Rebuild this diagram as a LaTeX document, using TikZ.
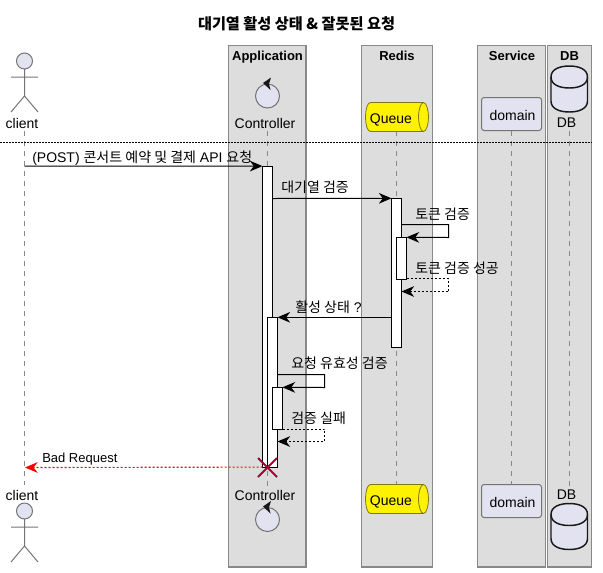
\documentclass[tikz,border=0pt]{standalone}
\usepackage{fontspec}
\usetikzlibrary{arrows.meta}
\setmainfont{Liberation Sans}
\newfontfamily\kr{Noto Sans CJK KR}
\definecolor{partfill}{HTML}{E2E2F0}
\definecolor{boxfill}{HTML}{DDDDDD}
\definecolor{edgegray}{HTML}{888888}
\definecolor{inkdark}{HTML}{181818}
\definecolor{queueedge}{HTML}{7A7A10}
\definecolor{crosscol}{HTML}{A80036}
\tikzset{
  x=0.75pt,y=-0.75pt,
  lab/.style={inner sep=0pt,font=\fontsize{10.5}{12}\selectfont,text=black},
  msglab/.style={lab,anchor=west},
  smalllab/.style={inner sep=0pt,anchor=west,font=\fontsize{9.75}{12}\selectfont,text=black},
  boxtitle/.style={inner sep=0pt,anchor=base,font=\fontsize{9.75}{12}\selectfont\bfseries,text=black},
  groupbox/.style={draw=edgegray,fill=boxfill,line width=1.1pt},
  lifeline/.style={draw=edgegray,line width=0.75pt,dash pattern=on 3.75pt off 3.75pt},
  bar/.style={draw=black,fill=white,line width=0.75pt,minimum width=7.5pt,inner sep=0pt,outer sep=0pt},
  msg/.style={draw=black,line width=0.75pt,-{Stealth[length=9.5pt,width=8pt,inset=3pt]}},
  retmsg/.style={msg,dash pattern=on 1.5pt off 1.5pt},
  actorline/.style={draw=edgegray!85!black,line width=0.75pt},
  partshape/.style={draw=edgegray!85!black,fill=partfill,line width=0.75pt},
  dbshape/.style={draw=inkdark,fill=partfill,line width=1.1pt},
  qshape/.style={draw=queueedge,fill=yellow,line width=0.6pt},
}
\newcommand{\actorfig}[2]{% x, head y
  \draw[partshape] (#1,#2) circle[radius=8];
  \draw[actorline] (#1,#2+8)--(#1,#2+35)
     (#1-13.5,#2+16)--(#1+13.5,#2+16)
     (#1-13.5,#2+51)--(#1,#2+35)--(#1+13.5,#2+51);
}
\newcommand{\ctrlfig}[2]{% x, centre y
  \draw[partshape] (#1,#2) circle[radius=12];
  \fill[inkdark] (#1-4.5,#2-13) -- (#1+3.5,#2-18.5) -- (#1+1.5,#2-12) -- (#1+3,#2-6) -- cycle;
}
\newcommand{\queuefig}[1]{% top y
  \draw[qshape] (423.5,#1) -- (370.5,#1) .. controls (367,#1) and (365.5,#1+8) .. (365.5,#1+14.5)
     .. controls (365.5,#1+21) and (367,#1+29) .. (370.5,#1+29) -- (423.5,#1+29)
     .. controls (426.5,#1+29) and (428.5,#1+21) .. (428.5,#1+14.5)
     .. controls (428.5,#1+8) and (426.5,#1) .. (423.5,#1) -- cycle;
  \draw[qshape,fill=none] (423.5,#1) .. controls (420.5,#1) and (418.5,#1+8) .. (418.5,#1+14.5)
     .. controls (418.5,#1+21) and (420.5,#1+29) .. (423.5,#1+29);
}
\newcommand{\dbfig}[1]{% top y
  \draw[dbshape] (551,#1+11) .. controls (551,#1+3) and (560,#1) .. (569.3,#1)
     .. controls (578.5,#1) and (587.5,#1+3) .. (587.5,#1+11) -- (587.5,#1+35)
     .. controls (587.5,#1+43) and (578.5,#1+46) .. (569.3,#1+46)
     .. controls (560,#1+46) and (551,#1+43) .. (551,#1+35) -- cycle;
  \draw[dbshape,fill=none] (551,#1+11) .. controls (551,#1+19) and (560,#1+22) .. (569.3,#1+22)
     .. controls (578.5,#1+22) and (587.5,#1+19) .. (587.5,#1+11);
}
\begin{document}
\begin{tikzpicture}
\useasboundingbox (0,0) rectangle (603,572);
% title
\node[inner sep=0pt,font=\fontsize{11.4}{13}\selectfont\bfseries\kr] (title) at (296.5,24) {대기열 활성 상태 \& 잘못된 요청};
% group boxes
\draw[groupbox] (228.5,45.5) rectangle (306,567);
\draw[groupbox] (361.5,45.5) rectangle (432.5,567);
\draw[groupbox] (477.5,45.5) rectangle (545.5,567);
\draw[groupbox] (547.5,45.5) rectangle (591.5,567);
\node[boxtitle] (tApp) at (267.5,60) {Application};
\node[boxtitle] (tRedis) at (397,60) {Redis};
\node[boxtitle] (tSvc) at (512,60) {Service};
\node[boxtitle] (tDB) at (569.5,60) {DB};
% participant labels
\node[lab] (clientT) at (22,123) {client};
\node[lab] (clientB) at (22,495) {client};
\node[lab] (ctrlT) at (265,123) {Controller};
\node[lab] (ctrlB) at (265,495) {Controller};
\node[lab] (dbT) at (566.5,123) {DB};
\node[lab] (dbB) at (566.5,495) {DB};
% lifelines
\coordinate (llClientT) at (24.5,131); \coordinate (llClientB) at (24.5,485);
\coordinate (llCtrlT) at (267.5,131);  \coordinate (llCtrlB) at (267.5,487);
\coordinate (llQT) at (396.5,131);     \coordinate (llQB) at (396.5,484);
\coordinate (llDomT) at (511,131);     \coordinate (llDomB) at (511,484);
\coordinate (llDbT) at (569.5,131);    \coordinate (llDbB) at (569.5,486);
\path[lifeline] (llClientT)--(llClientB);
\path[lifeline] (llCtrlT)--(llCtrlB);
\path[lifeline] (llQT)--(llQB);
\path[lifeline] (llDomT)--(llDomB);
\path[lifeline] (llDbT)--(llDbB);
% participants
\actorfig{24.5}{61}
\actorfig{24.5}{511}
\ctrlfig{267.5}{96}
\ctrlfig{267.5}{519.5}
\queuefig{102.5}
\queuefig{484.5}
\node[lab] (queueT) at (391,119.5) {Queue};
\node[lab] (queueB) at (391,501.5) {Queue};
\draw[partshape,rounded corners=2pt] (481.5,97.5) rectangle (541.5,130.5);
\draw[partshape,rounded corners=2pt] (481.5,484.5) rectangle (541.5,517.5);
\node[lab] (domT) at (512.5,115) {domain};
\node[lab] (domB) at (512.5,502) {domain};
\dbfig{66}
\dbfig{503.5}
% divider
\coordinate (divL) at (0,142); \coordinate (divR) at (591.5,142);
\draw[black,line width=0.75pt,dash pattern=on 1.5pt off 0.75pt] (divL)--(divR);
% activation bars
\node[bar,minimum height=225.75pt] (barC1) at (267.5,316.6) {};
\node[bar,minimum height=111.75pt] (barQ1) at (396.5,272.8) {};
\node[bar,minimum height=31.5pt]  (barQ2) at (401.5,258.3) {};
\node[bar,minimum height=112.5pt] (barC2) at (272.5,392.3) {};
\node[bar,minimum height=31.5pt]  (barC3) at (277.5,408.3) {};
% message anchors
\coordinate (s3a) at (448.5,224.5); \coordinate (s3b) at (448.5,237.5);
\coordinate (s4a) at (448.5,278.5); \coordinate (s4b) at (448.5,291.5);
\coordinate (s6a) at (324.5,374.5); \coordinate (s6b) at (324.5,387.5);
\coordinate (s7a) at (324.5,429);   \coordinate (s7b) at (324.5,441.5);
\coordinate (clientM1) at (24.5,166);
\coordinate (clientM8) at (25,467.5);
% messages
\draw[msg] (clientM1) -- (barC1.north west);
\node[msglab] (m1) at (32,158) {(POST) {\kr 콘서트 예약 및 결제} API {\kr 요청}};
\draw[msg] (barC1.east |- 0,198.5) -- (barQ1.north west);
\node[msglab] (m2) at (281,187.5) {\kr 대기열 검증};
\draw[msg] (barQ1.east |- s3a) -- (s3a) -- (s3b) -- (barQ2.north east);
\node[msglab] (m3) at (415,214.5) {\kr 토큰 검증};
\draw[retmsg] (barQ2.south east |- s4a) -- (s4a) -- (s4b) -- (barQ1.east |- s4b);
\node[msglab] (m4) at (415,268.5) {\kr 토큰 검증 성공};
\draw[msg] (barQ1.west |- barC2.north) -- (barC2.north east);
\node[msglab] (m5) at (295,307.5) {{\kr 활성 상태} ?};
\draw[msg] (barC2.east |- s6a) -- (s6a) -- (s6b) -- (barC3.north east);
\node[msglab] (m6) at (291,363.5) {\kr 요청 유효성 검증};
\draw[retmsg] (barC3.east |- s7a) -- (s7a) -- (s7b) -- (barC2.east |- s7b);
\node[msglab] (m7) at (291,418.5) {\kr 검증 실패};
\draw[draw=red,line width=0.85pt,dash pattern=on 1.5pt off 1.5pt,-{Stealth[length=9.5pt,width=8pt,inset=3pt,red]}] (barC1.south west) -- (clientM8);
\node[smalllab] (m8) at (42,459.5) {Bad Request};
% destroy mark
\coordinate (xc) at (267.5,467.5);
\draw[crosscol,line width=1.5pt] ([shift={(-9.5,-9.5)}]xc) -- ([shift={(9.5,9.5)}]xc)
   ([shift={(-9.5,9.5)}]xc) -- ([shift={(9.5,-9.5)}]xc);
\end{tikzpicture}
\end{document}
